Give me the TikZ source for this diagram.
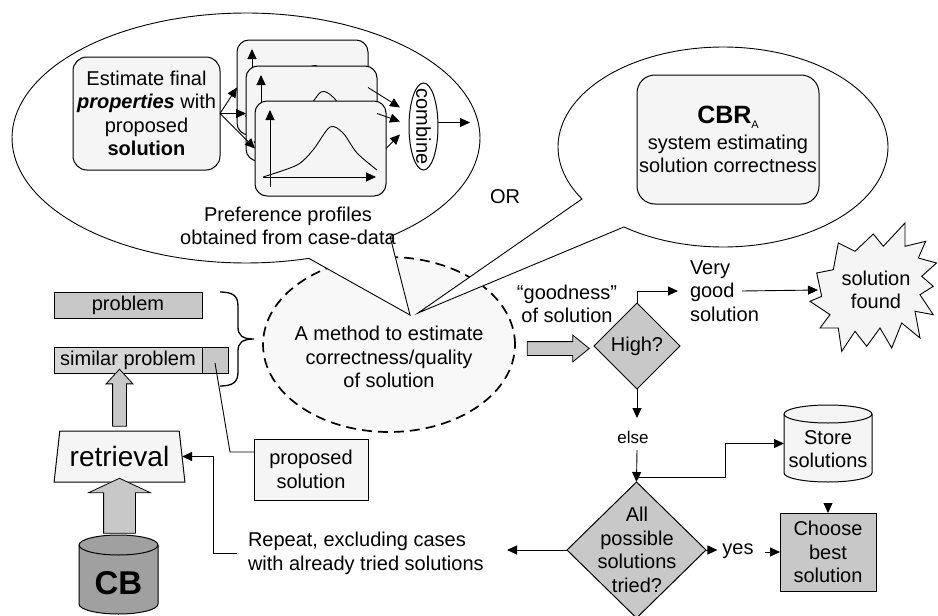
\documentclass[tikz,border=0pt]{standalone}
\usepackage{fontspec}
\setmainfont{Liberation Sans}
\usetikzlibrary{shapes.geometric,shapes.arrows,arrows.meta,calc}

\definecolor{lightfill}{RGB}{245,245,245}
\definecolor{midgray}{RGB}{200,200,200}
\definecolor{simgray}{RGB}{214,214,214}
\definecolor{cbgray}{RGB}{160,160,160}
\definecolor{methfill}{RGB}{248,248,248}

\tikzset{
  every node/.style={font=\fontsize{20}{23.5}\selectfont, inner sep=0pt, outer sep=0pt},
  thin line/.style={line width=0.9pt},
  arr/.style={line width=0.9pt, -{Triangle[length=10pt,width=9pt]}},
  framebox/.style={draw, line width=1pt, rectangle},
  card/.style={draw, line width=1pt, fill=lightfill, rounded corners=12pt,
    minimum width=131pt, minimum height=95pt},
  blockarrow/.style={single arrow, draw, fill=midgray, line width=0.8pt, inner xsep=0pt},
  decision/.style={diamond, draw, line width=1pt, fill=midgray, aspect=1},
}

% axes and a preference curve inside a profile card
\newcommand{\plotcard}[1]{%
  \begin{scope}[shift={(#1.south west)}]
    \draw[arr] (15,-9) -- (15,-86);
    \draw[arr] (8,-19) -- (121,-19);
    \draw[thin line] plot[smooth] coordinates
      {(8,-19) (42,-31) (58,-46) (75,-69) (88,-63) (102,-43) (122,-26)};
  \end{scope}}

% vertical cylinder drawn around a (invisible) rectangular node
% #1 node, #2 half width, #3 end-ellipse half height, #4 fill
\newcommand{\drum}[4]{%
  \draw[line width=1pt, fill=#4]
    ($(#1.north west)+(0,#3)$) -- ($(#1.south west)+(0,-#3)$)
    arc[start angle=180, end angle=360, x radius=#2pt, y radius=#3pt]
    -- ($(#1.north east)+(0,#3)$)
    arc[start angle=0, end angle=180, x radius=#2pt, y radius=#3pt] -- cycle;
  \draw[line width=1pt] ($(#1.north west)+(0,#3)$)
    arc[start angle=180, end angle=360, x radius=#2pt, y radius=#3pt];}

\begin{document}
\begin{tikzpicture}[x=1pt, y=-1pt]
\useasboundingbox (0,0) rectangle (938,616);

% ---------- central method (dashed ellipse) ----------
\node[ellipse, draw, dashed, dash pattern=on 10pt off 6pt, line width=1.7pt,
      fill=methfill, minimum width=252pt, minimum height=175pt] (meth) at (389,344.5) {};
\node[align=center] (methtext) at (389,357)
  {A method to estimate\\correctness/quality\\of solution};

% ---------- thought bubbles ----------
\draw[thin line, fill=white]
  plot[domain=74.4:412, samples=150] ({246+234*cos(\x)}, {138+125*sin(\x)})
  -- (410,315) -- cycle;
\draw[thin line, fill=white]
  plot[domain=148.7:486.9, samples=150] ({723+165*cos(\x)}, {147+100*sin(\x)})
  -- (418,313) -- cycle;

% ---------- left bubble: preference profiles ----------
\node[draw, line width=1pt, fill=lightfill, rounded corners=14pt,
      minimum width=147pt, minimum height=113pt, align=center] (est) at (146.5,113.5)
  {Estimate final\\\textbf{\textit{properties}} with\\proposed\\\textbf{solution}};

\node[card] (card1) at (302.5,87.5) {};
\plotcard{card1}
\node[card] (card2) at (311.5,113.5) {};
\plotcard{card2}
\node[card] (card3) at (320.5,148.5) {};
\plotcard{card3}

\draw[arr] (est.east) -- (card1.west);
\draw[arr] (est.east) -- (card2.west);
\draw[arr] (est.east) -- (card3.west);

\node[ellipse, draw, line width=1pt, fill=white, minimum width=29pt, minimum height=87pt]
  (comb) at (423.5,126.5) {};
\node[rotate=-90] (combtext) at (comb.center) {combine};

\draw[arr] (card1.east) -- ($(comb.west)+(-9,-19)$);
\draw[arr] (card2.east) -- ($(comb.west)+(-9,-5)$);
\draw[arr] (card3.east) -- ($(comb.west)+(-9,8)$);
\draw[arr] ($(comb.east)+(0,-4)$) -- ++(32,0);

\node[align=center] (pref) at (288,226) {Preference profiles\\obtained from case-data};

% ---------- right bubble: CBR_A ----------
\node[draw, line width=1pt, fill=lightfill, rounded corners=18pt,
      minimum width=182pt, minimum height=129pt, align=center] (cbr) at (728,139.5)
  {{\fontsize{25}{25}\selectfont\bfseries CBR}\raisebox{-5pt}{\fontsize{11}{11}\selectfont A}\\[2pt]
   system estimating\\solution correctness};
\node (or) at (505,197) {OR};

% ---------- problem side ----------
\node[framebox, fill=midgray, minimum width=148pt, minimum height=26pt] (prob) at (128,305) {problem};
\node[framebox, fill=simgray, minimum width=148pt, minimum height=26pt] (sim) at (128,360) {similar problem};
\node[framebox, fill=midgray, minimum width=26pt, minimum height=26pt, anchor=west] (simsol) at (sim.east) {};

\draw[line width=1.3pt]
  (220,292) .. controls (233,292) and (238,296) .. (238,306) -- (238,327)
  .. controls (238,335) and (242,339) .. (254,339)
  .. controls (242,339) and (238,343) .. (238,351) -- (238,372)
  .. controls (238,382) and (233,386) .. (220,386);

\node[trapezium, draw, line width=1pt, fill=lightfill, trapezium stretches=true,
      trapezium left angle=77, trapezium right angle=77,
      minimum width=131pt, minimum height=51pt] (retr) at (119.5,456.5)
  {\fontsize{28}{28}\selectfont retrieval};

\node[blockarrow, rotate=90, minimum height=57pt, inner ysep=6.5pt,
      single arrow head extend=6.5pt, single arrow tip angle=85] (uparr) at (119.5,401.5) {};

\node[minimum width=79pt, minimum height=79pt] (cb) at (118.5,574.5) {};
\node[blockarrow, rotate=90, minimum height=55pt, inner ysep=15.5pt,
      single arrow head extend=15pt, single arrow tip angle=130] (cbarr) at (119.5,509.5) {};
\drum{cb}{39.5}{10}{cbgray}
\node[font=\fontsize{33}{33}\selectfont\bfseries] (cbtext) at ($(cb.center)+(0,9)$) {CB};

\node[framebox, fill=lightfill, minimum width=114pt, minimum height=61pt, align=center]
  (prop) at (311,469.5) {proposed\\solution};
\draw[thin line] ($(simsol.center)+(0,3)$) -- ($(prop.west)+(-24,-17.5)$) -- ($(prop.west)+(0,-17.5)$);

\node[align=left, anchor=west] (rep) at (248,553.5)
  {Repeat, excluding cases\\with already tried solutions};
\draw[arr] ($(rep.west)+(-11,0)$) -| ($(retr.east)+(31,0)$) -- (retr.east);

% ---------- evaluation flow ----------
\node[blockarrow, minimum height=62pt, inner ysep=6.5pt,
      single arrow head extend=6.5pt, single arrow tip angle=78] (goodarr) at (554,348.5) {};
\node[align=center] (good) at (567,304) {“goodness”\\of solution};

\node[decision, minimum width=86pt, minimum height=86pt] (high) at (637,346) {};
\node (hightext) at (high.center) {High?};

\node[align=left, anchor=west] (very) at (690,291) {Very\\good\\solution};
\draw[arr] (high.north) |- ($(very.west)+(-12,0)$);

\draw[line width=0.9pt, fill=lightfill]
  (838.3,243) -- (855,251.3) -- (873.3,234) -- (883.3,246.3) -- (905,223) -- (905,246.3)
  -- (925.7,241.3) -- (918.3,258) -- (936.5,263) -- (921.7,276.3) -- (933.3,286.3)
  -- (920,294.7) -- (933.3,314.7) -- (915,311.3) -- (920,338) -- (901.7,323)
  -- (891.7,348) -- (880,328) -- (866.7,346.3) -- (855,331.3) -- (841.7,351.3)
  -- (838.3,328) -- (820,328) -- (830,314.7) -- (810,301.3) -- (821.7,296.3)
  -- (816.7,273) -- (833.3,269.7) -- cycle;
\node[circle, minimum size=116pt, align=center] (found) at (876,290) {solution\\found};
\draw[arr] ($(very.west)+(52,0)$) -- (found.west);

\node[font=\fontsize{17}{17}\selectfont] (else) at (633,437.5) {else};
\draw[arr] (high.south) -- ($(high.south)+(0,29)$);

\node[decision, minimum width=139pt, minimum height=136pt] (all) at (636.5,550) {};
\node[align=center] (alltext) at (637,550) {All\\possible\\solutions\\tried?};
\draw[arr] ($(high.south)+(0,61)$) -- (all.north);

\node[minimum width=88pt, minimum height=77pt] (store) at (828,443.5) {};
\drum{store}{44}{9}{lightfill}
\node[align=center] (storetext) at ($(store.center)+(0,5.5)$) {Store\\solutions};
\draw[arr] ($(all.north)+(0,-5)$) -- ++(89,0) |- (store.west);

\node[framebox, fill=midgray, minimum width=96pt, minimum height=78pt, align=center]
  (choose) at (828,552) {Choose\\best\\solution};
\draw[arr] ($(choose.north)+(0,-10)$) -- (choose.north);

\node (yes) at (738,551) {yes};
\draw[arr] (all.east) -- ($(yes.west)+(-5,-1)$);
\draw[arr] ($(yes.east)+(11,1)$) -- (choose.west);
\draw[arr] (all.west) -- ++(-60,0);

\end{tikzpicture}
\end{document}
